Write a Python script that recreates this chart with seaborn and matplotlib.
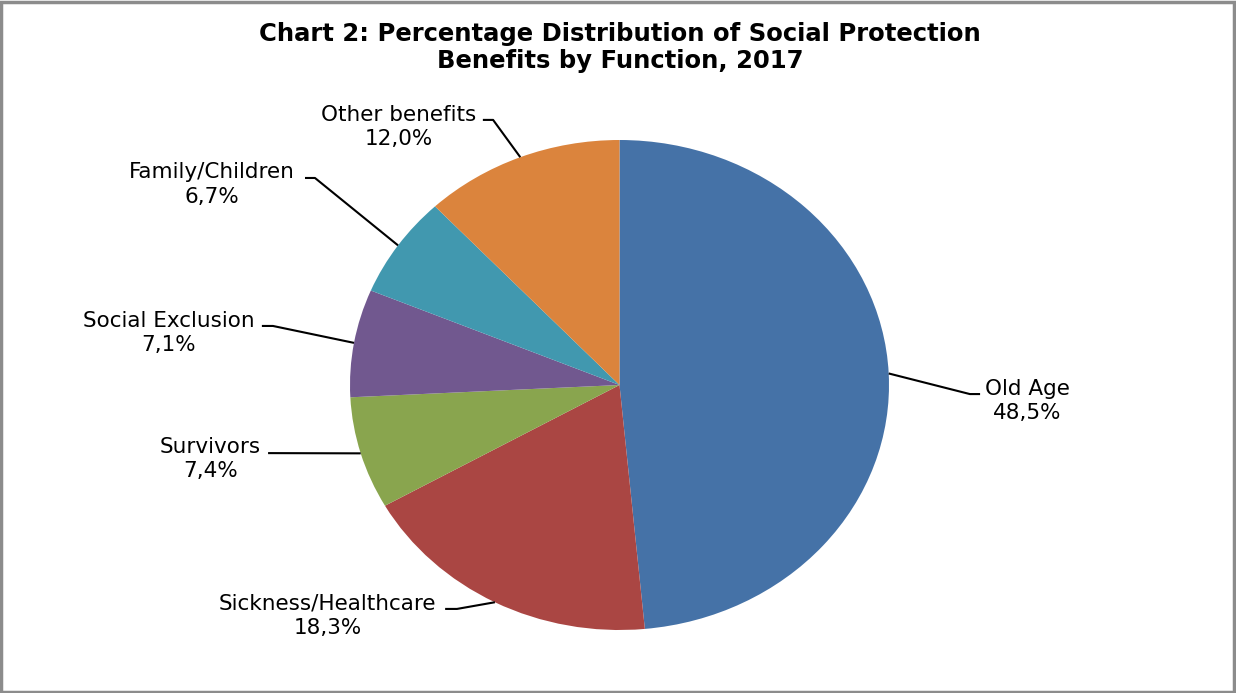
import numpy as np
import seaborn as sns
import matplotlib.pyplot as plt
from matplotlib.patches import Rectangle
plt.switch_backend('agg')

functions = ['Old Age', 'Sickness/Healthcare', 'Survivors', 'Social Exclusion',
             'Family/Children', 'Other benefits']
shares = [48.5, 18.3, 7.4, 7.1, 6.7, 12.0]
colors = ['#4572A7', '#AA4643', '#89A54E', '#71588F', '#4198AF', '#DB843D']

# label centre, elbow and end of the leader line (axes data units)
label_pos = [(1.512, -0.065), (-1.083, -0.943), (-1.519, -0.302),
             (-1.673, 0.212), (-1.512, 0.818), (-0.818, 1.053)]
elbow_pos = [(1.30, -0.037), (-0.603, -0.914), (-1.304, -0.278),
             (-1.286, 0.241), (-1.130, 0.845), (-0.469, 1.082)]
end_x = [1.338, -0.647, -1.304, -1.327, -1.167, -0.507]

sns.set_theme(style='white')
plt.rcParams['font.family'] = ['DejaVu Sans']
plt.rcParams['text.color'] = 'black'
palette = sns.color_palette(colors)

fig = plt.figure(figsize=(12.36, 6.93), dpi=100)
ax = fig.add_axes([350 / 1236, 63 / 693, 539 / 1236, 490 / 693])

wedges, _ = ax.pie(shares, colors=palette, startangle=90, counterclock=False,
                   wedgeprops=dict(linewidth=0))
ax.set_aspect('auto')
ax.set_xlim(-1, 1)
ax.set_ylim(-1, 1)
ax.axis('off')

for w, name, val, lp, ep, ex in zip(wedges, functions, shares, label_pos, elbow_pos, end_x):
    ang = np.deg2rad((w.theta1 + w.theta2) / 2)
    px, py = np.cos(ang), np.sin(ang)
    ax.plot([px, ep[0], ex], [py, ep[1], ep[1]], color='black', lw=1.5,
            clip_on=False, solid_capstyle='butt')
    txt = '%s\n%s%%' % (name, ('%.1f' % val).replace('.', ','))
    ax.text(lp[0], lp[1], txt, ha='center', va='center', multialignment='center',
            fontsize=15.5, color='black', linespacing=1.3, clip_on=False)

fig.text(0.5016, 0.932, 'Chart 2: Percentage Distribution of Social Protection\nBenefits by Function, 2017',
         ha='center', va='center', fontsize=17.5, fontweight='bold', linespacing=1.15,
         color='black')

fig.patches.append(Rectangle((0.001, 0.002), 0.997, 0.995, transform=fig.transFigure,
                             fill=False, edgecolor='#8c8c8c', linewidth=2.5))

fig.savefig('out.png', dpi=100, facecolor='white')
